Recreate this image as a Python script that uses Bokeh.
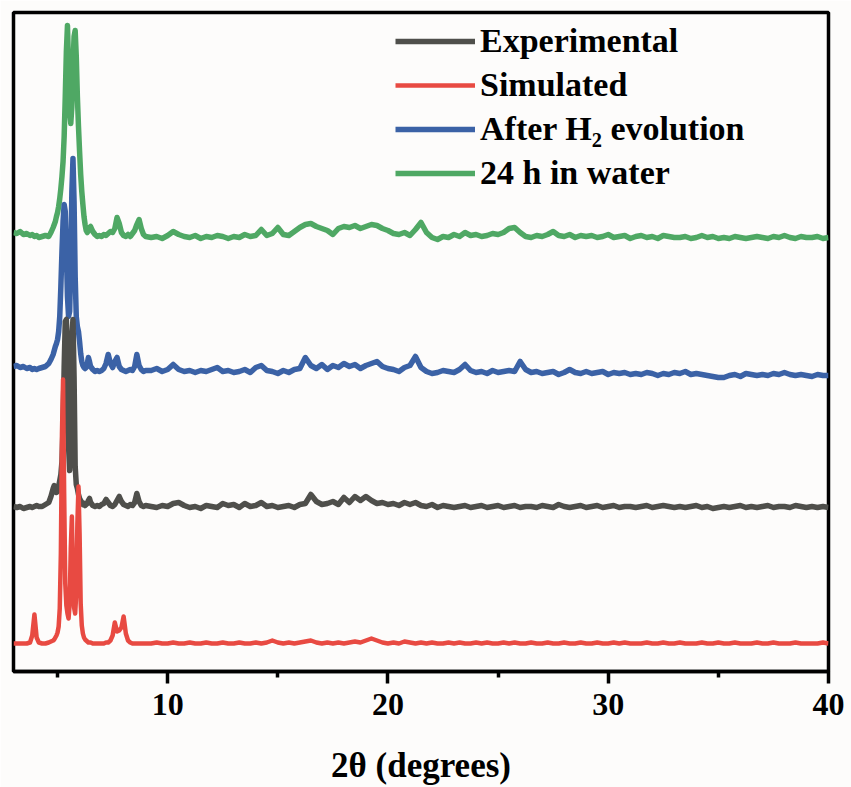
from bokeh.plotting import figure
from bokeh.models import FixedTicker, Legend, LegendItem, Range1d
from bokeh.embed import file_html
from bokeh.resources import INLINE

# 2-theta positions (degrees)
two_theta = [
    3.0, 3.15, 3.3, 3.45, 3.6, 3.75, 3.85, 3.95, 4.05, 4.15, 4.3, 4.45, 4.6, 4.7, 4.8,
    4.85, 4.9, 4.95, 5.0, 5.05, 5.1, 5.15, 5.2, 5.25, 5.3, 5.35, 5.4, 5.45, 5.5, 5.55, 5.6,
    5.65, 5.7, 5.75, 5.8, 5.85, 5.9, 5.95, 6.0, 6.05, 6.1, 6.15, 6.2, 6.25, 6.3, 6.35, 6.4, 6.45,
    6.5, 6.6, 6.7, 6.8, 6.9, 7.0, 7.1, 7.2, 7.3, 7.4, 7.5, 7.6, 7.7, 7.8, 7.9, 8.0,
    8.1, 8.2, 8.3, 8.4, 8.5, 8.6, 8.7, 8.8, 8.9, 9.0,
    9.25, 9.5, 9.75, 10.0, 10.25, 10.5, 10.75, 11.0,
    11.25, 11.5, 11.75, 12.0, 12.25, 12.5, 12.75, 13.0,
    13.25, 13.5, 13.75, 14.0, 14.25, 14.5, 14.75, 15.0,
    15.25, 15.5, 15.75, 16.0, 16.25, 16.5, 16.75, 17.0,
    17.25, 17.5, 17.75, 18.0, 18.25, 18.5, 18.75, 19.0,
    19.25, 19.5, 19.75, 20.0, 20.25, 20.5, 20.75, 21.0,
    21.25, 21.5, 21.75, 22.0, 22.25, 22.5, 22.75, 23.0,
    23.25, 23.5, 23.75, 24.0, 24.25, 24.5, 24.75, 25.0,
    25.25, 25.5, 25.75, 26.0, 26.25, 26.5, 26.75, 27.0,
    27.25, 27.5, 27.75, 28.0, 28.25, 28.5, 28.75, 29.0,
    29.25, 29.5, 29.75, 30.0, 30.25, 30.5, 30.75, 31.0,
    31.25, 31.5, 31.75, 32.0, 32.25, 32.5, 32.75, 33.0,
    33.25, 33.5, 33.75, 34.0, 34.25, 34.5, 34.75, 35.0,
    35.25, 35.5, 35.75, 36.0, 36.25, 36.5, 36.75, 37.0,
    37.25, 37.5, 37.75, 38.0, 38.25, 38.5, 38.75, 39.0,
    39.25, 39.5, 39.75, 40.0,
]

# intensities (a.u.), relative to each pattern's own baseline
experimental = [
    0, -1, 0, -2, -1, 0, -1, 0, 1, 0, 0, 2, 4, 10, 18,
    21, 17, 14, 15, 20, 26, 32, 45, 80, 140, 185, 187, 150, 60, 36, 90,
    170, 187, 130, 40, 22, 18, 12, 8, 6, 4, 2, 3, 1, 2, 3, 6, 8,
    4, 1, 0, 1, 0, 2, 3, 7, 4, 1, 0, 2, 6, 10, 5, 2,
    1, 0, 2, 1, 4, 13, 5, 1, 0, 1,
    0, -1, 1, 0, 3, 4, 1, -1,
    0, -2, 1, 0, -1, 3, 1, 2,
    -1, 3, 0, 1, 4, 0, 1, -1,
    0, 1, -1, 2, 3, 12, 5, 2,
    3, 5, 2, 9, 4, 10, 6, 10,
    6, 3, 4, 2, 3, 1, 4, 2,
    4, 1, 0, 2, -1, 1, 0, -1,
    0, 1, -1, 0, 1, -1, 0, 1,
    -1, 0, 1, -1, 0, 0, -1, 1,
    0, -1, 2, 0, -1, 0, 1, -1,
    0, 1, -1, 0, 1, -1, 0, 0,
    -1, 0, 1, -1, 0, 1, 0, -1,
    0, -1, 0, 1, -1, 0, -2, -1,
    0, -1, 0, 1, -1, 0, -1, 0,
    1, -1, 0, 0, -1, 1, 0, -1,
    0, -1, 0, -1,
]

simulated = [
    0, 0, 0, 0, 0, 1, 8, 29, 6, 1, 0, 0, 1, 2, 3,
    4, 6, 8, 11, 17, 35, 90, 210, 264, 150, 60, 38, 30, 25, 40, 95,
    127, 70, 36, 30, 50, 120, 157, 110, 40, 18, 10, 6, 4, 3, 2, 1, 1,
    1, 0, 0, 0, 0, 0, 0, 1, 1, 3, 8, 21, 12, 13, 16, 27,
    10, 3, 1, 0, 0, 0, 0, 0, 0, 0,
    0, 1, 0, 0, 1, 0, 0, 1,
    0, 0, 1, 0, 0, 1, 0, 0,
    1, 0, 0, 1, 0, 1, 3, 1,
    0, 1, 0, 1, 2, 3, 1, 0,
    1, 0, 1, 0, 1, 2, 1, 3,
    5, 3, 1, 0, 1, 0, 2, 1,
    0, 1, 0, 1, 0, 0, 1, 0,
    1, 0, 0, 1, 0, 1, 0, 0,
    1, 0, 1, 0, 0, 1, 0, 0,
    1, 0, 0, 1, 0, 0, 1, 0,
    0, 1, 0, 0, 1, 0, 1, 0,
    0, 0, 1, 0, 0, 1, 0, 0,
    1, 0, 0, 0, 1, 0, 0, 1,
    0, 0, 1, 0, 0, 0, 1, 0,
    0, 1, 0, 0, 0, 1, 0, 0,
    0, 0, 1, 0,
]

after_h2 = [
    5, 6, 4, 5, 3, 4, 2, 3, 2, 3, 4, 5, 8, 12, 17,
    21, 25, 28, 32, 40, 55, 85, 120, 150, 167, 160, 120, 75, 55, 60, 110,
    180, 213, 170, 95, 55, 45, 40, 30, 18, 10, 6, 4, 3, 4, 8, 14, 10,
    5, 2, 0, 1, 0, 1, 3, 8, 17, 8, 4, 10, 14, 5, 2, 1,
    0, 1, 2, 1, 5, 17, 6, 2, 0, 1,
    1, 3, 0, 2, 7, 2, 0, 1,
    -1, 1, 0, 2, 4, 0, 1, -1,
    0, 2, -1, 4, 6, 1, 0, -2,
    1, -1, 2, 3, 14, 6, 3, 7,
    2, 6, 4, 8, 5, 7, 3, 6,
    8, 10, 5, 3, 2, 0, 4, 6,
    15, 4, 0, -2, -1, 1, 0, -1,
    2, 7, 1, -1, 0, -2, 1, -1,
    0, 1, 0, 10, 2, -1, 0, -2,
    -1, 0, -3, -1, 2, -1, -2, 0,
    -2, -1, 0, -3, -1, -2, -1, -3,
    -2, -3, -1, -2, -4, -2, -3, -1,
    -2, 0, -3, -2, -3, -4, -5, -6,
    -6, -4, -3, -5, -2, -3, -4, -3,
    -4, -2, -3, -1, -3, -4, -3, -4,
    -5, -3, -4, -4,
]

in_water = [
    4, 3, 5, 2, 3, 1, 2, 0, 1, -1, 0, 1, 0, 4, 9,
    12, 15, 20, 24, 30, 38, 48, 60, 75, 100, 140, 185, 211, 170, 125, 113,
    130, 170, 200, 206, 180, 140, 110, 85, 62, 45, 32, 20, 12, 6, 4, 6, 9,
    10, 5, 2, 0, 1, 0, 2, 1, 3, 5, 4, 8, 19, 13, 4, 1,
    0, 2, 0, 3, 6, 12, 17, 8, 2, 0,
    -1, 0, -2, 1, 5, 2, 0, -1,
    1, -2, 0, -1, 1, 0, -2, 0,
    -1, 2, 0, 1, 7, 1, 3, 9,
    2, 1, 5, 9, 12, 13, 10, 8,
    6, 2, 8, 10, 9, 11, 8, 10,
    12, 11, 8, 6, 3, 2, 4, 1,
    7, 14, 4, -1, -3, 0, -1, 2,
    0, 4, 1, 2, 0, 1, 3, 2,
    4, 8, 9, 4, 0, -1, 1, 0,
    2, 5, 1, 0, 2, -1, 1, 0,
    1, -1, 0, 2, -1, 0, 1, -2,
    0, 1, -1, 0, -2, 1, 0, -1,
    -1, 0, -2, -1, 1, -1, 0, -2,
    -1, -2, 0, -1, -2, -1, 0, -1,
    -2, 0, -1, 1, -1, -2, 0, -1,
    -1, 0, -2, -1,
]

# vertical stacking offsets (a.u.)
offset_simulated = 28
offset_experimental = 165
offset_after_h2 = 300
offset_in_water = 435

labels = ["Experimental", "Simulated", "After H\u2082 evolution", "24 h in water"]
colors = ["#4f4f4b", "#e84a42", "#3b62a6", "#4fa864"]
x_title = "2\u03b8 (degrees)"

x_ticks = [10, 20, 30, 40]
x_minor = [5, 15, 25, 35]

for s in (experimental, simulated, after_h2, in_water):
    assert len(s) == len(two_theta), len(s)

BG = "#fdfcfb"
p = figure(width=851, height=787, output_backend="svg", toolbar_location=None,
           x_range=Range1d(3, 40), y_range=Range1d(0, 659),
           y_axis_location=None,
           min_border_left=13, min_border_right=23, min_border_top=12, min_border_bottom=116,
           background_fill_color=BG, border_fill_color=BG)
p.grid.visible = False
p.outline_line_color = "black"
p.outline_line_width = 3.5
p.outline_line_alpha = 1

ax = p.xaxis[0]
ax.ticker = FixedTicker(ticks=x_ticks, minor_ticks=x_minor)
ax.axis_line_color = "black"
ax.axis_line_width = 3.5
ax.major_tick_line_width = 3.5
ax.minor_tick_line_width = 3.5
ax.major_tick_in = 0
ax.major_tick_out = 12
ax.minor_tick_in = 0
ax.minor_tick_out = 6
ax.major_label_text_font = "Liberation Serif"
ax.major_label_text_font_style = "bold"
ax.major_label_text_font_size = "32px"
ax.major_label_text_color = "black"
ax.major_label_standoff = 10
ax.axis_label = x_title
ax.axis_label_text_font = "Liberation Serif"
ax.axis_label_text_font_style = "bold"
ax.axis_label_text_font_size = "35px"
ax.axis_label_text_color = "black"
ax.axis_label_standoff = 28

def shifted(vals, off):
    return [v + off for v in vals]

r_water = p.line(two_theta, shifted(in_water, offset_in_water), line_color=colors[3], line_width=5.5, line_join="round")
r_after = p.line(two_theta, shifted(after_h2, offset_after_h2), line_color=colors[2], line_width=5.5, line_join="round")
r_exp = p.line(two_theta, shifted(experimental, offset_experimental), line_color=colors[0], line_width=5.5, line_join="round")
r_sim = p.line(two_theta, shifted(simulated, offset_simulated), line_color=colors[1], line_width=4.5, line_join="round")

legend = Legend(items=[
    LegendItem(label=labels[0], renderers=[r_exp]),
    LegendItem(label=labels[1], renderers=[r_sim]),
    LegendItem(label=labels[2], renderers=[r_after]),
    LegendItem(label=labels[3], renderers=[r_water]),
], location=(382, 479))
legend.label_text_font = "Liberation Serif"
legend.label_text_font_style = "bold"
legend.label_text_font_size = "34px"
legend.label_text_color = "black"
legend.glyph_width = 80
legend.glyph_height = 36
legend.label_height = 36
legend.label_standoff = 5
legend.spacing = 6
legend.padding = 0
legend.margin = 0
legend.border_line_alpha = 0
legend.background_fill_alpha = 0
p.add_layout(legend)

open("out.html", "w").write(file_html(p, INLINE))
